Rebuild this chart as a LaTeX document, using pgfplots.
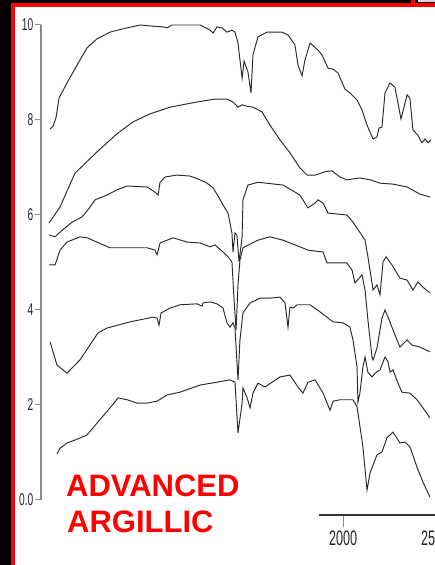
\documentclass[border=0pt]{standalone}
\usepackage{pgfplots}
\pgfplotsset{compat=1.18}
\usepackage{fontspec}
\setmainfont{Liberation Sans}
\usepackage{graphicx}
\definecolor{spec}{HTML}{2A2A2A}
\definecolor{axgray}{HTML}{8A8A8A}
\newcommand\nar[1]{\scalebox{0.6}[1]{#1}}
\begin{document}
\begin{tikzpicture}[x=1pt,y=1pt]
\useasboundingbox (0,0) rectangle (435,565);
\fill[white] (0,0) rectangle (435,565);
\fill[black] (0,0) rectangle (11,565);
\fill[black] (0,562) rectangle (435,565);
\fill[red] (11,0) rectangle (15,562);
\fill[red] (11,558) rectangle (435,562);
\fill[red] (411,562) rectangle (415,565);
\fill[black!15] (418,562.8) rectangle (435,565);

\begin{axis}[
  at={(41pt,65pt)}, anchor=south west, scale only axis,
  width=394pt, height=475pt,
  xmin=303, xmax=2517, ymin=0, ymax=10,
  axis y line*=left, axis x line=none,
  y axis line style={draw=axgray, line width=1.1pt},
  ytick={0,2,4,6,8,10},
  yticklabels={\nar{0.0},\nar{2},\nar{4},\nar{6},\nar{8},\nar{10}},
  tick align=outside, major tick length=6pt,
  ytick style={draw=axgray, line width=1pt},
  yticklabel style={font=\fontsize{17}{17}\selectfont, text=black!85, inner sep=1.5pt},
  clip=false,
]
\addplot[spec, line width=0.95pt] coordinates {(354,7.81)(371,7.87)(388,8.06)(404,8.46)(449,8.78)(506,9.16)(562,9.52)(618,9.71)(691,9.85)(787,9.94)(860,10.0)(916,9.98)(989,9.96)(1011,9.94)(1039,10.0)(1197,10.0)(1253,9.89)(1270,9.83)(1292,9.96)(1320,9.94)(1348,9.85)(1376,9.89)(1393,9.85)(1410,9.62)(1433,8.88)(1444,9.24)(1466,9.01)(1483,8.57)(1494,9.37)(1522,9.75)(1573,9.85)(1657,9.85)(1691,9.79)(1730,9.58)(1747,9.16)(1770,8.93)(1786,9.26)(1815,9.62)(1860,9.47)(1882,9.37)(1916,9.09)(1944,9.07)(1972,8.99)(2011,8.65)(2039,8.57)(2079,8.42)(2107,8.21)(2135,7.89)(2169,7.60)(2191,7.64)(2202,7.83)(2219,7.85)(2236,8.57)(2264,8.78)(2292,8.69)(2326,8.02)(2360,8.53)(2376,8.46)(2393,7.79)(2421,7.68)(2444,7.52)(2461,7.60)(2478,7.52)(2494,7.58)};
\addplot[spec, line width=0.95pt] coordinates {(348,5.83)(410,6.17)(477,6.74)(494,6.88)(618,7.33)(730,7.71)(820,7.96)(916,8.13)(1028,8.27)(1180,8.38)(1281,8.44)(1348,8.44)(1382,8.38)(1410,8.27)(1433,8.32)(1461,8.29)(1494,8.27)(1545,8.17)(1590,7.89)(1646,7.58)(1702,7.31)(1758,6.99)(1798,6.84)(1843,6.84)(1899,6.91)(1938,6.93)(1983,6.80)(2022,6.74)(2095,6.78)(2152,6.74)(2208,6.67)(2281,6.65)(2360,6.59)(2432,6.44)(2489,6.38)};
\addplot[spec, line width=0.95pt] coordinates {(348,5.58)(382,5.54)(410,5.64)(478,5.85)(534,5.96)(567,6.11)(607,6.32)(674,6.42)(730,6.53)(787,6.61)(899,6.59)(944,6.48)(961,6.42)(972,6.69)(1000,6.80)(1067,6.84)(1140,6.82)(1197,6.74)(1236,6.67)(1270,6.57)(1298,6.40)(1326,6.21)(1354,6.04)(1376,5.62)(1382,5.22)(1393,5.62)(1404,5.58)(1416,5.01)(1433,5.54)(1438,6.32)(1466,6.63)(1522,6.69)(1663,6.63)(1758,6.42)(1803,6.15)(1843,6.25)(1860,6.32)(1888,6.25)(1916,6.04)(2022,6.00)(2056,5.85)(2124,5.47)(2140,5.12)(2169,4.42)(2191,4.53)(2208,4.32)(2225,5.01)(2242,5.12)(2275,4.95)(2320,4.67)(2360,4.63)(2393,4.42)(2421,4.59)(2449,4.48)(2489,4.36)};
\addplot[spec, line width=0.95pt] coordinates {(348,4.95)(382,4.95)(410,5.26)(449,5.43)(522,5.54)(562,5.52)(691,5.31)(899,5.31)(944,5.26)(955,5.16)(972,5.41)(1045,5.52)(1124,5.43)(1197,5.41)(1253,5.33)(1281,5.37)(1326,5.22)(1354,5.12)(1376,5.01)(1388,4.21)(1399,3.58)(1404,4.00)(1410,4.53)(1421,5.05)(1438,5.31)(1522,5.47)(1590,5.54)(1663,5.47)(1758,5.33)(1803,5.26)(1888,5.22)(1910,4.99)(2022,4.99)(2051,4.84)(2067,4.57)(2095,4.69)(2107,4.74)(2124,4.42)(2140,3.79)(2163,3.01)(2169,2.95)(2191,3.20)(2219,3.83)(2236,4.00)(2253,3.85)(2281,3.58)(2320,3.22)(2360,3.37)(2388,3.26)(2432,3.22)(2489,3.12)};
\addplot[spec, line width=0.95pt] coordinates {(354,3.33)(393,2.84)(449,2.67)(522,2.95)(624,3.52)(674,3.62)(803,3.75)(933,3.85)(955,3.83)(966,3.68)(978,3.94)(1028,4.04)(1084,4.11)(1180,4.13)(1208,4.08)(1213,4.15)(1253,4.17)(1292,4.13)(1326,4.04)(1348,3.73)(1365,3.64)(1382,3.73)(1393,3.62)(1410,2.53)(1421,3.37)(1438,3.94)(1478,4.15)(1534,4.25)(1590,4.25)(1646,4.27)(1674,4.15)(1691,3.64)(1702,4.06)(1719,4.04)(1742,4.11)(1815,4.11)(1871,3.96)(1944,3.75)(2000,3.73)(2039,3.64)(2056,3.37)(2079,2.80)(2084,2.06)(2095,2.25)(2112,2.80)(2124,3.01)(2140,2.69)(2163,2.59)(2180,2.67)(2208,2.74)(2236,3.01)(2253,2.91)(2264,2.69)(2281,2.74)(2309,2.46)(2331,2.27)(2376,2.25)(2416,2.11)(2449,1.94)(2489,1.73)};
\addplot[spec, line width=0.95pt] coordinates {(393,0.97)(410,1.09)(449,1.20)(506,1.28)(562,1.37)(618,1.62)(691,1.94)(736,2.15)(787,2.11)(843,2.04)(899,2.04)(955,2.08)(1011,2.21)(1084,2.27)(1197,2.42)(1292,2.48)(1365,2.53)(1393,2.48)(1410,1.41)(1433,2.04)(1438,2.36)(1461,2.15)(1478,1.94)(1494,2.25)(1522,2.46)(1562,2.38)(1646,2.59)(1702,2.63)(1747,2.38)(1775,2.25)(1803,2.48)(1843,2.53)(1888,2.25)(1927,1.89)(1944,2.08)(1983,2.11)(2056,2.11)(2079,1.96)(2112,1.12)(2135,0.21)(2152,0.57)(2191,0.95)(2219,1.01)(2247,1.31)(2281,1.43)(2320,1.20)(2348,1.22)(2376,1.12)(2416,0.69)(2449,0.38)(2489,0.06)};
\end{axis}

\begin{axis}[
  at={(319pt,50pt)}, anchor=south west, scale only axis,
  width=122pt, height=10pt,
  xmin=1865, xmax=2550, ymin=0, ymax=1,
  axis x line*=bottom, axis y line=none,
  x axis line style={draw=black!80, line width=1.1pt},
  xtick={2000}, xticklabels={\nar{2000}},
  extra x ticks={2500}, extra x tick labels={\nar{2500}},
  extra x tick style={major tick length=0pt, xticklabel style={yshift=-12pt, xshift=3pt}},
  tick align=outside, major tick length=12pt,
  xtick style={draw=axgray, line width=1pt},
  xticklabel style={font=\fontsize{21}{21}\selectfont, text=black!85},
]
\addplot[draw=none] coordinates {(2000,0.5)};
\end{axis}

\node[anchor=base west, inner sep=0, text=red, font=\fontsize{31}{31}\selectfont\bfseries] at (66,68) {ADVANCED};
\node[anchor=base west, inner sep=0, text=red, font=\fontsize{31}{31}\selectfont\bfseries] at (67,32) {ARGILLIC};
\end{tikzpicture}
\end{document}
